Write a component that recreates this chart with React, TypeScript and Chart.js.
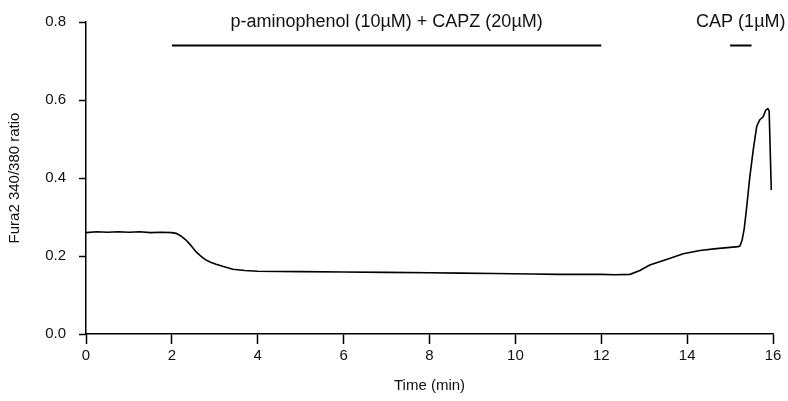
import React, { useEffect, useRef } from "react";
import { Chart, registerables } from "chart.js";

Chart.register(...registerables);

// Time (min)
const timeMin: number[] = [
  0, 0.25, 0.5, 0.75, 1.0, 1.25, 1.5, 1.75, 2.0, 2.1, 2.2, 2.33, 2.45, 2.56, 2.68, 2.79, 2.9, 3.03, 3.2,
  3.42, 3.7, 4.0, 5.0, 6.0, 7.0, 8.0, 8.7, 9.5, 10.4, 11.0, 12.0, 12.32, 12.67, 12.9, 13.13, 13.52,
  13.91, 14.3, 14.68, 15.0, 15.19, 15.23, 15.28, 15.33, 15.38, 15.46, 15.54, 15.62, 15.69, 15.77,
  15.83, 15.88, 15.91, 15.96,
];
// Fura2 340/380 ratio
const ratio: number[] = [
  0.26, 0.262, 0.261, 0.262, 0.261, 0.262, 0.26, 0.261, 0.26, 0.258, 0.252, 0.241, 0.226, 0.211, 0.199,
  0.19, 0.184, 0.179, 0.173, 0.166, 0.163, 0.161, 0.16, 0.159, 0.158, 0.157, 0.156, 0.155, 0.154,
  0.153, 0.153, 0.152, 0.153, 0.163, 0.177, 0.191, 0.206, 0.214, 0.219, 0.222, 0.224, 0.226, 0.24,
  0.27, 0.318, 0.403, 0.472, 0.532, 0.549, 0.557, 0.574, 0.578, 0.572, 0.369,
];

const xTicks: number[] = [0, 2, 4, 6, 8, 10, 12, 14, 16];
const yTicks: number[] = [0.0, 0.2, 0.4, 0.6, 0.8];

const treatmentLabels: string[] = ["p-aminophenol (10\u00b5M) + CAPZ (20\u00b5M)", "CAP (1\u00b5M)"];
const treatmentStart: number[] = [2, 15.0];
const treatmentEnd: number[] = [12, 15.5];
const treatmentLevel = 0.741;

const FONT = "'Liberation Sans', Arial, sans-serif";

const treatmentPlugin = {
  id: "treatments",
  afterDraw(chart: any) {
    const { ctx } = chart;
    const xs = chart.scales.x;
    const ys = chart.scales.y;
    ctx.save();
    ctx.strokeStyle = "#000";
    ctx.lineWidth = 2;
    ctx.fillStyle = "#111";
    ctx.font = `18px ${FONT}`;
    ctx.textAlign = "center";
    ctx.textBaseline = "alphabetic";
    for (let i = 0; i < treatmentLabels.length; i++) {
      const x0 = xs.getPixelForValue(treatmentStart[i]);
      const x1 = xs.getPixelForValue(treatmentEnd[i]);
      const y = Math.round(ys.getPixelForValue(treatmentLevel)) + 0.5;
      ctx.beginPath();
      ctx.moveTo(x0, y);
      ctx.lineTo(x1, y);
      ctx.stroke();
      let cx = (x0 + x1) / 2;
      const w = ctx.measureText(treatmentLabels[i]).width;
      if (cx + w / 2 > chart.width - 2) cx = chart.width - 2 - w / 2;
      ctx.fillText(treatmentLabels[i], cx, y - 19);
    }
    ctx.restore();
  },
};

export default function App() {
  const ref = useRef<HTMLCanvasElement | null>(null);
  useEffect(() => {
    if (!ref.current) return;
    const chart = new Chart(ref.current, {
      type: "line",
      data: {
        datasets: [
          {
            data: timeMin.map((t, i) => ({ x: t, y: ratio[i] })),
            borderColor: "#000",
            borderWidth: 1.6,
            pointRadius: 0,
            tension: 0,
            fill: false,
          },
        ],
      },
      options: {
        animation: false,
        responsive: false,
        maintainAspectRatio: false,
        layout: { padding: { left: 0, right: 15, top: 22, bottom: 0 } },
        plugins: { legend: { display: false }, tooltip: { enabled: false } },
        scales: {
          x: {
            type: "linear",
            min: 0,
            max: 16,
            afterBuildTicks: (s: any) => {
              s.ticks = xTicks.map((v) => ({ value: v }));
            },
            afterFit: (s: any) => {
              s.height = 67;
            },
            ticks: {
              color: "#111",
              font: { family: FONT, size: 15 },
              padding: 3,
              maxRotation: 0,
              callback: (v: any) => String(v),
            },
            grid: {
              display: true,
              drawOnChartArea: false,
              drawTicks: true,
              tickLength: 10,
              tickWidth: 1.5,
              tickColor: "#000",
              color: "#000",
            },
            border: { display: true, color: "#000", width: 1.5 },
            title: {
              display: true,
              text: "Time (min)",
              color: "#111",
              font: { family: FONT, size: 15 },
              padding: { top: 0, bottom: 6 },
            },
          },
          y: {
            type: "linear",
            min: 0,
            max: 0.8,
            afterBuildTicks: (s: any) => {
              s.ticks = yTicks.map((v) => ({ value: v }));
            },
            afterFit: (s: any) => {
              s.width = 86;
            },
            ticks: {
              color: "#111",
              font: { family: FONT, size: 15 },
              padding: 13,
              callback: (v: any) => Number(v).toFixed(1),
            },
            grid: {
              display: true,
              drawOnChartArea: false,
              drawTicks: true,
              tickLength: 7,
              tickWidth: 1.5,
              tickColor: "#000",
              color: "#000",
            },
            border: { display: true, color: "#000", width: 1.5 },
            title: {
              display: true,
              text: "Fura2 340/380 ratio",
              color: "#111",
              font: { family: FONT, size: 15 },
              padding: { top: 6, bottom: 0 },
            },
          },
        },
      },
      plugins: [treatmentPlugin],
    } as any);
    return () => chart.destroy();
  }, []);
  return (
    <div style={{ position: "fixed", left: 0, top: 0, width: 788, height: 401, background: "#fff" }}>
      <canvas ref={ref} width={788} height={401} style={{ width: 788, height: 401 }} />
    </div>
  );
}
